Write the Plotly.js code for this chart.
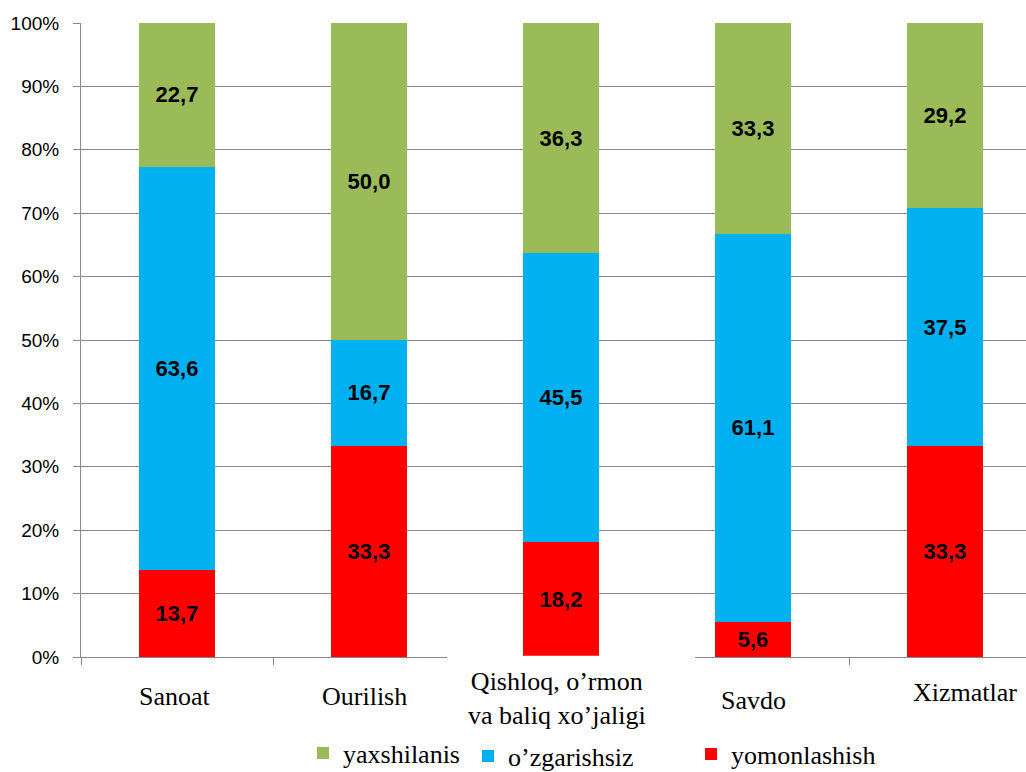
<!DOCTYPE html>
<html>
<head>
<meta charset="utf-8">
<script src="https://cdn.plot.ly/plotly-3.0.1.min.js"></script>
<style>html,body{margin:0;padding:0;background:#fff;}#chart{width:1026px;height:772px;}</style>
</head>
<body>
<div id="chart"></div>
<script>
var categories = ["Sanoat", "Ourilish", "Qishloq", "Savdo", "Xizmatlar"];
var categoryLabels = ["Sanoat", "Ourilish", "Qishloq, o’rmon<br>va baliq xo’jaligi", "Savdo", "Xizmatlar"];
var yomonlashish = [13.7, 33.3, 18.2, 5.6, 33.3];
var ozgarishsiz = [63.6, 16.7, 45.5, 61.1, 37.5];
var yaxshilanis = [22.7, 50.0, 36.3, 33.3, 29.2];
var seriesNames = ["yomonlashish", "o’zgarishsiz", "yaxshilanis"];
var seriesColors = ["#FF0000", "#00B0F0", "#9BBB59"];

var labelFont = {family: "Liberation Sans Narrow, Arial Narrow, Liberation Sans, Arial", size: 22, color: "#000000", weight: "bold"};
var serif = "Liberation Serif, Times New Roman, serif";

function mk(vals, i, leg) {
  return {
    type: "bar", x: categories, y: vals, name: seriesNames[i],
    marker: {color: seriesColors[i], line: {width: 0}},
    width: 0.4,
    texttemplate: "%{y:.1f}", textposition: "inside", insidetextanchor: "middle",
    constraintext: "none", textfont: labelFont, insidetextfont: labelFont,
    legend: leg, hoverinfo: "x+y+name"
  };
}
var traces = [
  mk(yomonlashish, 0, "legend3"),
  mk(ozgarishsiz, 1, "legend2"),
  mk(yaxshilanis, 2, "legend")
];

var L = 81, R = 1026, T = 23, B = 657;
function px2x(p) { return -0.5 + (p - L) / 192; }
function py2y(p) { return (B - p) / (B - T); }
function pxp(p) { return (p - L) / (R - L); }

var labShift = [-2, -5, -4, 0, 20];
var labY = [696, 696, 698, 700, 692];
var annotations = categories.map(function (c, i) {
  return {
    xref: "x", yref: "paper", x: c, y: py2y(labY[i]), xshift: labShift[i],
    text: categoryLabels[i], showarrow: false, xanchor: "center", yanchor: "middle",
    font: {family: serif, size: 26, color: "#000000"}
  };
});

var legFont = {family: serif, size: 26, color: "#000000"};
function legendAt(px, py) {
  return {orientation: "h", x: pxp(px - 42), y: py2y(py), xanchor: "left", yanchor: "middle",
    font: legFont, bgcolor: "rgba(0,0,0,0)", borderwidth: 0, itemclick: false};
}

var gray = "#898989";
var layout = {
  width: 1026, height: 772,
  margin: {l: L, r: 1026 - R, t: T, b: 772 - B, autoexpand: false},
  paper_bgcolor: "#ffffff", plot_bgcolor: "#ffffff",
  barmode: "stack",
  separators: ",.",
  showlegend: true,
  xaxis: {
    type: "category", categoryorder: "array", categoryarray: categories,
    range: [-0.5, px2x(R)], showticklabels: false,
    ticks: "outside", tickson: "boundaries", ticklen: 7, tickcolor: gray, tickwidth: 1,
    showline: true, linecolor: gray, linewidth: 1, showgrid: false, zeroline: false, fixedrange: true
  },
  yaxis: {
    range: [0, 100], dtick: 10, tick0: 0, ticksuffix: "%",
    ticks: "outside", ticklen: 7, tickcolor: gray, tickwidth: 1,
    showline: true, linecolor: gray, linewidth: 1,
    showgrid: true, gridcolor: gray, gridwidth: 1, zeroline: false,
    ticklabelstandoff: 10,
    tickfont: {family: "Liberation Sans, Arial", size: 19, color: "#000000"}, fixedrange: true
  },
  legend: legendAt(345, 753),
  legend2: legendAt(510, 756),
  legend3: legendAt(733, 754),
  annotations: annotations,
  shapes: [{
    type: "rect", xref: "x", yref: "paper", layer: "above",
    x0: px2x(447), x1: px2x(695), y0: -0.025, y1: 0.002,
    fillcolor: "#ffffff", line: {width: 0}
  }]
};

Plotly.newPlot("chart", traces, layout, {displayModeBar: false, staticPlot: true});
</script>
</body>
</html>
